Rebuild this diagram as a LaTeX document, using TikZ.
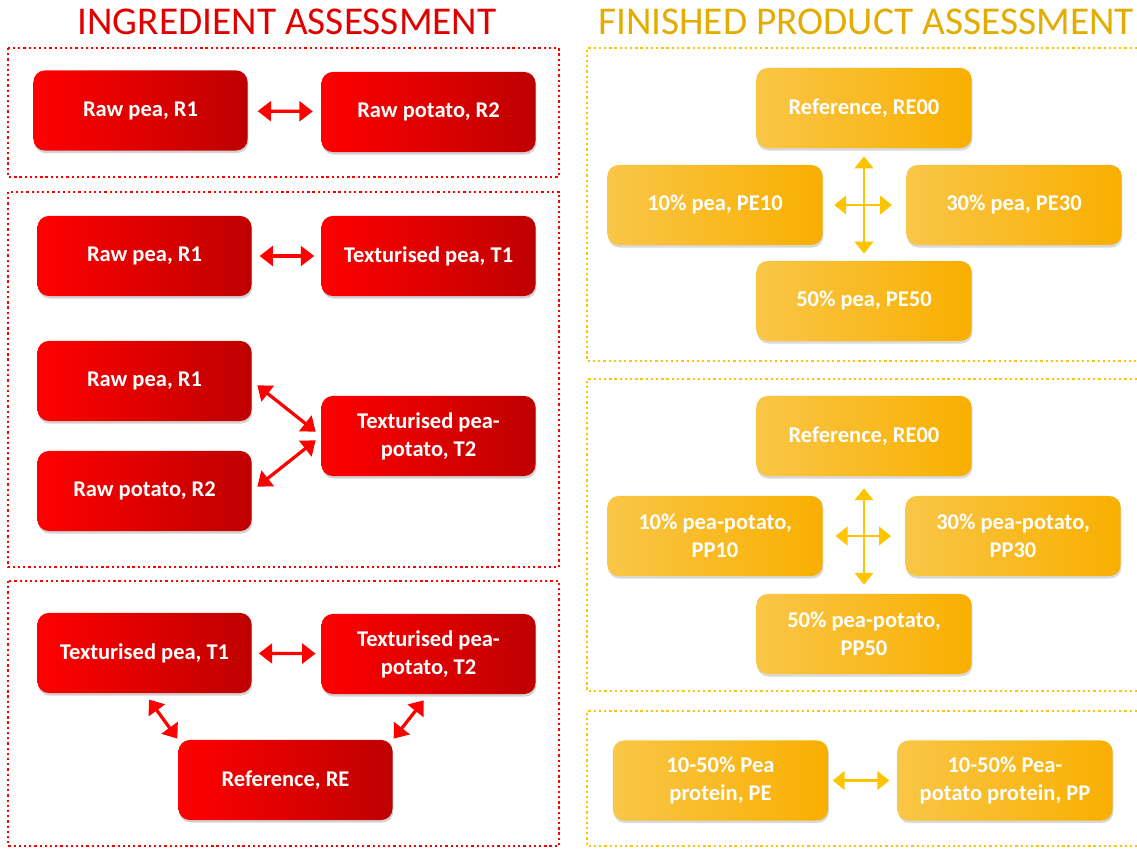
\documentclass[tikz,border=0pt]{standalone}
\usepackage{fontspec}
\setmainfont{Carlito}
\usetikzlibrary{arrows.meta,shadows}
\definecolor{peared}{HTML}{FF0000}
\definecolor{peamid}{HTML}{F20000}
\definecolor{peadark}{HTML}{BE0000}
\definecolor{titlered}{HTML}{E00000}
\definecolor{yolight}{HTML}{F9C647}
\definecolor{yomid}{HTML}{FFC400}
\definecolor{yodark}{HTML}{F9AF00}
\definecolor{titlegold}{HTML}{E2AC00}
\begin{document}
\begin{tikzpicture}[x=.025cm,y=-.025cm,every node/.style={font=\bfseries\fontsize{16}{20}\selectfont,text=white,align=center},redbox/.style={rounded corners=8pt,minimum width=5.35cm,minimum height=2cm,left color=peared,middle color=peamid,right color=peadark,drop shadow={opacity=.35,shadow xshift=.6pt,shadow yshift=-1.8pt}},goldbox/.style={rounded corners=8pt,minimum width=5.38cm,minimum height=2cm,left color=yolight,middle color=yomid,right color=yodark,drop shadow={opacity=.3,shadow xshift=.6pt,shadow yshift=-1.8pt}},redpanel/.style={peared,line width=1.6pt,dash pattern=on 1.6pt off 2.1pt},goldpanel/.style={yomid,line width=1.6pt,dash pattern=on 1.6pt off 2.1pt},redlink/.style={peared,line width=2.3pt,{Triangle[width=14pt,length=9.5pt]}-{Triangle[width=14pt,length=9.5pt]}},goldlink/.style={yomid,line width=2.1pt,{Triangle[width=13pt,length=8.5pt]}-{Triangle[width=13pt,length=8.5pt]}},title/.style={font=\fontsize{28}{30}\selectfont}]
\useasboundingbox (0,0) rectangle (1137,848);
\node[title,text=titlered] (ingtitle) at (287,22){INGREDIENT ASSESSMENT};\node[title,text=titlegold] (fintitle) at (866,22){FINISHED PRODUCT ASSESSMENT};
\draw[redpanel] (8,48) rectangle (559,177);\draw[redpanel] (8,192) rectangle (559,567);\draw[redpanel] (8,581) rectangle (559,846);
\draw[goldpanel] (1137,48)--(587,48)--(587,361)--(1137,361);\draw[goldpanel] (1137,379)--(587,379)--(587,691)--(1137,691);\draw[goldpanel] (1137,711)--(587,711)--(587,846)--(1137,846);
\node[redbox] (rawpeaA) at (140.5,110.5){Raw pea, R1};\node[redbox] (rawpotA) at (428.5,112){Raw potato, R2};\draw[redlink,shorten <=7pt,shorten >=6pt] (rawpeaA)--(rawpotA);
\node[redbox] (rawpeaB) at (144.5,256){Raw pea, R1};\node[redbox] (texpeaB) at (428.5,256){Texturised pea, T1};\draw[redlink,shorten <=5.5pt,shorten >=5pt] (rawpeaB)--(texpeaB);
\node[redbox] (rawpeaC) at (144.5,381){Raw pea, R1};\node[redbox] (rawpotC) at (144.5,491){Raw potato, R2};\node[redbox] (texmixC) at (428.5,436){Texturised pea-\\potato, T2};
\draw[redlink,shorten <=5pt,shorten >=5pt] (rawpeaC.east)--(texmixC.west);\draw[redlink,shorten <=5pt,shorten >=5pt] (texmixC.west)--(rawpotC.east);
\node[redbox] (texpeaD) at (144.5,653){Texturised pea, T1};\node[redbox] (texmixD) at (428.5,654){Texturised pea-\\potato, T2};\node[redbox] (refD) at (285.5,780){Reference, RE};
\draw[redlink,shorten <=5pt,shorten >=4pt] (texpeaD)--(texmixD);\draw[redlink,shorten <=5.5pt,shorten >=1pt] (texpeaD.south)--(refD.north west);\draw[redlink,shorten <=5.5pt,shorten >=1pt] (texmixD.south)--(refD.north east);
\node[goldbox] (refA) at (864,108){Reference, RE00};\node[goldbox] (peTen) at (715,205){10\% pea, PE10};\node[goldbox] (peThirty) at (1014,205){30\% pea, PE30};\node[goldbox] (peFifty) at (864,301){50\% pea, PE50};
\draw[goldlink,shorten <=5.7pt,shorten >=5pt] (refA)--(peFifty);\draw[goldlink,shorten <=8pt,shorten >=10pt] (peTen)--(peThirty);
\node[goldbox] (refB) at (864,436){Reference, RE00};\node[goldbox] (ppTen) at (715,536){10\% pea-potato,\\PP10};\node[goldbox] (ppThirty) at (1013,536){30\% pea-potato,\\PP30};\node[goldbox] (ppFifty) at (864,634){50\% pea-potato,\\PP50};
\draw[goldlink,shorten <=8.5pt,shorten >=6.4pt] (refB)--(ppFifty);\draw[goldlink,shorten <=9pt,shorten >=10pt] (ppTen)--(ppThirty);
\node[goldbox] (peAll) at (720.5,780.5){10-50\% Pea\\protein, PE};\node[goldbox] (ppAll) at (1005,780.5){10-50\% Pea-\\potato protein, PP};\draw[goldlink,shorten <=3pt,shorten >=5.5pt] (peAll)--(ppAll);
\end{tikzpicture}
\end{document}
